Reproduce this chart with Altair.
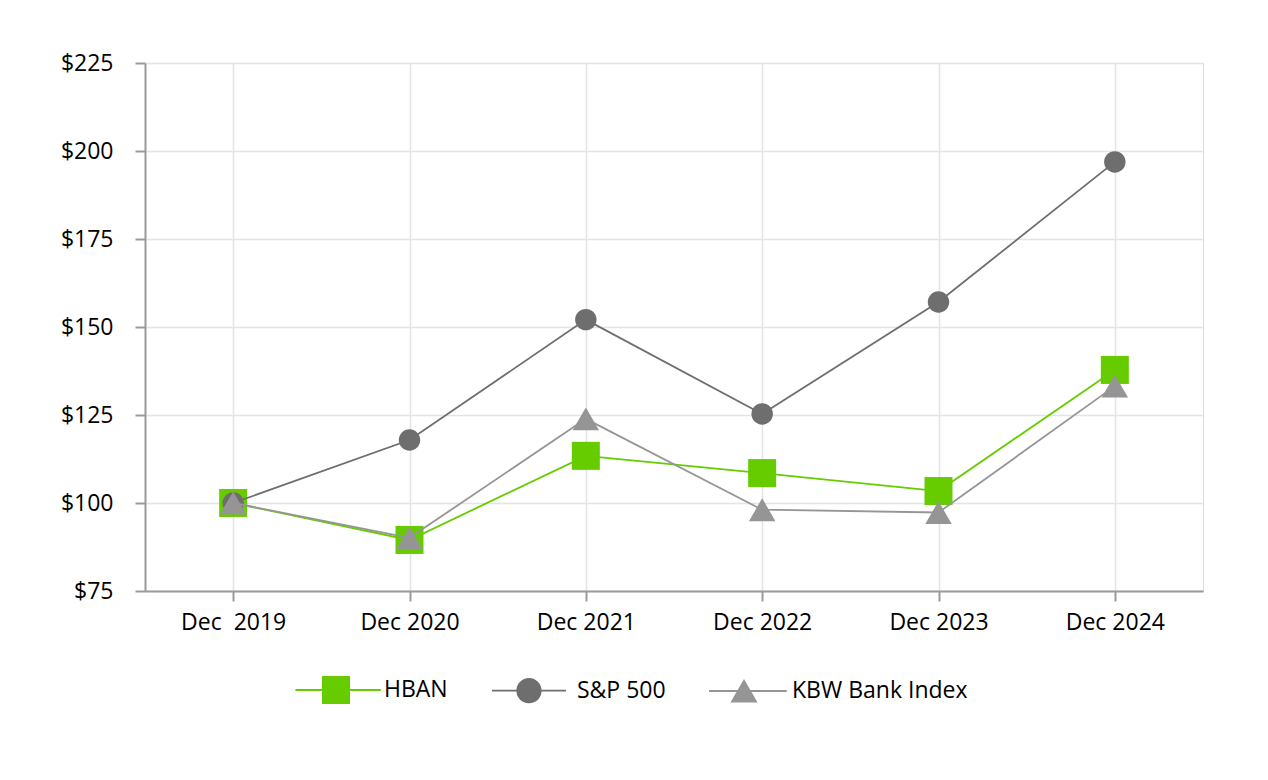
import altair as alt
import pandas as pd

years = ["Dec  2019", "Dec 2020", "Dec 2021", "Dec 2022", "Dec 2023", "Dec 2024"]
series_names = ["HBAN", "S&P 500", "KBW Bank Index"]
hban = [100, 89.5, 113.4, 108.5, 103.4, 137.8]
sp500 = [100, 117.9, 152.1, 125.3, 157.1, 196.9]
kbw = [100, 90.1, 123.9, 98.1, 97.3, 133.2]
colors = ["#66CC00", "#6E6E6E", "#959595"]
y_ticks = [75, 100, 125, 150, 175, 200, 225]

rows = []
for name, vals in zip(series_names, [hban, sp500, kbw]):
    for yr, v in zip(years, vals):
        rows.append({"year": yr, "series": name, "value": v})
df = pd.DataFrame(rows)

FONT = "Open Sans"
FS = 23

x_enc = alt.X("year:N", sort=years, scale=alt.Scale(type="point", padding=0.5, domain=years),
              axis=alt.Axis(title=None, labelAngle=0, labelFont=FONT, labelFontSize=FS,
                            labelExpr="replace(datum.label, '  ', ' \u00a0')",
                            labelColor="#000000", domainColor="#9a9a9a", domainWidth=2,
                            tickColor="#9a9a9a", tickWidth=2, tickSize=10, labelPadding=10,
                            grid=True, gridColor="#e4e4e4", gridWidth=1.5))
y_enc = alt.Y("value:Q", scale=alt.Scale(domain=[75, 225], nice=False, zero=False),
              axis=alt.Axis(title=None, values=y_ticks, format="$.0f", labelFont=FONT,
                            labelFontSize=FS, labelColor="#000000", domainColor="#9a9a9a",
                            domainWidth=2, tickColor="#9a9a9a", tickWidth=2, tickSize=10,
                            labelPadding=22, grid=True, gridColor="#e4e4e4", gridWidth=1.5))

shapes = {"HBAN": ("square", 784), "S&P 500": ("circle", 460), "KBW Bank Index": ("triangle-up", 700)}

layers = []
for name, col in zip(series_names, colors):
    sub = alt.Chart(df).transform_filter(alt.datum.series == name)
    layers.append(sub.mark_line(color=col, strokeWidth=1.8).encode(x=x_enc, y=y_enc))
    shp, sz = shapes[name]
    layers.append(sub.mark_point(shape=shp, size=sz, filled=True, opacity=1, color=col)
                  .encode(x=x_enc, y=y_enc))

legend_paths = [
    "M-2.9,-0.065H3.2V0.065H-2.9Z M-1,-1H1V1H-1Z",
    "M-2.65,-0.065H2.65V0.065H-2.65Z M-0.9,0A0.9,0.9,0,1,1,0.9,0A0.9,0.9,0,1,1,-0.9,0Z",
    "M-2.5,-0.065H3.05V0.065H-2.5Z M0,-0.86L0.97,0.82L-0.97,0.82Z",
]

legend_layer = alt.Chart(df).mark_point(filled=True, opacity=0).encode(
    x=x_enc, y=y_enc,
    color=alt.Color("series:N", scale=alt.Scale(domain=series_names, range=colors),
                    legend=alt.Legend(title=None, orient="none", legendX=177, legendY=613,
                                      direction="horizontal", labelFont=FONT, labelFontSize=FS,
                                      labelColor="#000000", symbolSize=784, symbolOpacity=1,
                                      symbolStrokeWidth=0, labelOffset=34, columnPadding=43,
                                      labelLimit=400, padding=0)),
    shape=alt.Shape("series:N", scale=alt.Scale(domain=series_names, range=legend_paths), legend=None),
)

chart = alt.layer(*layers, legend_layer).properties(
    width=1058, height=528,
    autosize=alt.AutoSizeParams(type="none"),
    padding={"left": 137, "top": 55, "right": 50, "bottom": 150},
).configure_view(stroke=None).configure(background="#ffffff")

chart.save("out.html", embed_options={"renderer": "svg", "actions": False})
